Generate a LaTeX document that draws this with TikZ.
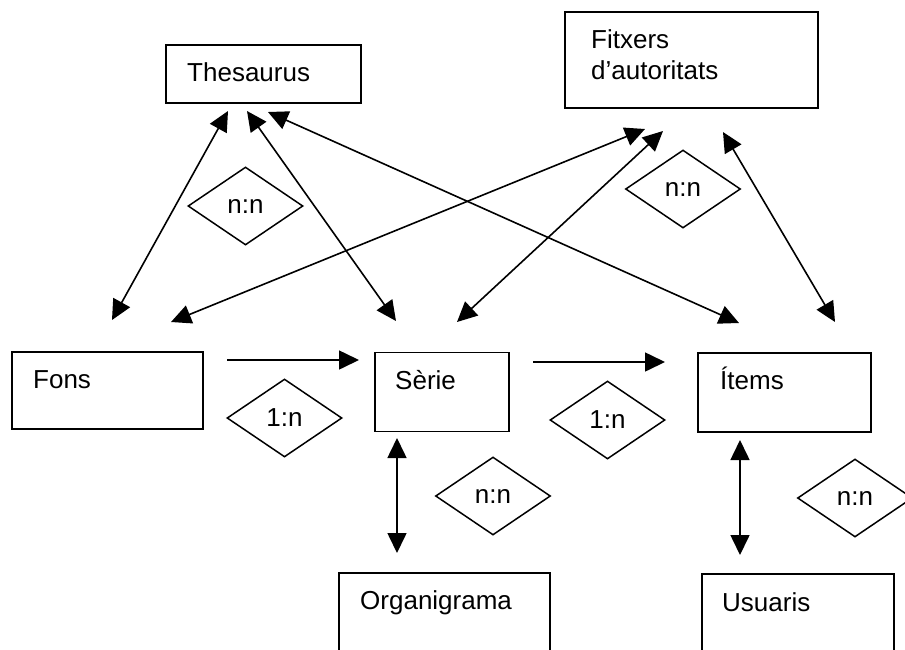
\documentclass[tikz,border=0pt]{standalone}
\usepackage{fontspec}
\setmainfont{Liberation Sans}
\usetikzlibrary{arrows.meta,shapes.geometric}
\begin{document}
\begin{tikzpicture}[x=1pt,y=-1pt,
  box/.style={draw,line width=1.5pt,inner sep=0pt},
  lbl/.style={anchor=base west,inner sep=0pt,font=\fontsize{26}{31}\selectfont},
  rel/.style={draw,diamond,line width=1.5pt,inner sep=0pt,aspect=1.47,
    minimum width=115pt,minimum height=78pt,font=\fontsize{26}{31}\selectfont},
  one/.style={line width=1.6pt,-{Triangle[length=20pt,width=19pt]}},
  two/.style={line width=1.6pt,{Triangle[length=20pt,width=19pt]}-{Triangle[length=20pt,width=19pt]}}]
\clip (0,0) rectangle (905,649);
\fill[white] (0,0) rectangle (905,649);
% boxes
\node[box,minimum width=195pt,minimum height=58pt] (thes) at (263.5,74) {};
\node[lbl] (thest) at (187,81) {Thesaurus};
\node[box,minimum width=253pt,minimum height=96pt] (fitx) at (691.5,60) {};
\node[lbl] (fitxt1) at (591,48) {Fitxers};
\node[lbl] (fitxt2) at (591,79) {d’autoritats};
\node[box,minimum width=191pt,minimum height=77pt] (fons) at (107.5,390.5) {};
\node[lbl] (fonst) at (33,388) {Fons};
\node[box,minimum width=134pt,minimum height=79pt] (serie) at (442,392) {};
\node[lbl] (seriet) at (395,389) {Sèrie};
\node[box,minimum width=173pt,minimum height=79pt] (items) at (784.5,392.5) {};
\node[lbl] (itemst) at (720,389) {Ítems};
\node[box,minimum width=211pt,minimum height=100pt] (org) at (444.5,623) {};
\node[lbl] (orgt) at (360,609) {Organigrama};
\node[box,minimum width=192pt,minimum height=100pt] (usu) at (798,624) {};
\node[lbl] (usut) at (722,611) {Usuaris};
% relationship diamonds
\node[rel] (r1) at (245.5,206) {n:n};
\node[rel] (r2) at (683,189) {n:n};
\node[rel] (r3) at (284.5,418) {1:n};
\node[rel] (r4) at (607.5,420) {1:n};
\node[rel] (r5) at (493,496) {n:n};
\node[rel] (r6) at (855,498) {n:n};
% connector ends
\coordinate (fonsR) at (227,360);
\coordinate (serieL) at (359,360);
\coordinate (serieR) at (533,362);
\coordinate (itemsL) at (665,362);
\coordinate (serieB) at (397,438);
\coordinate (orgT) at (397,553);
\coordinate (itemsB) at (740,440);
\coordinate (usuT) at (740,555);
\coordinate (fonsT1) at (112,320);
\coordinate (fonsT2) at (171,322);
\coordinate (serieT1) at (396,321);
\coordinate (serieT2) at (457,322);
\coordinate (itemsT1) at (739,323);
\coordinate (itemsT2) at (835,322);
\coordinate (thesB1) at (228,111);
\coordinate (thesB2) at (247,111);
\coordinate (thesB3) at (268,112);
\coordinate (fitxB1) at (645,129);
\coordinate (fitxB2) at (663,131);
\coordinate (fitxB3) at (723,132);
% connectors
\draw[one] (fonsR) -- (serieL);
\draw[one] (serieR) -- (itemsL);
\draw[two] (serieB) -- (orgT);
\draw[two] (itemsB) -- (usuT);
\draw[two] (fonsT1) -- (thesB1);
\draw[two] (serieT1) -- (thesB2);
\draw[two] (itemsT1) -- (thesB3);
\draw[two] (fonsT2) -- (fitxB1);
\draw[two] (serieT2) -- (fitxB2);
\draw[two] (itemsT2) -- (fitxB3);
\end{tikzpicture}
\end{document}
